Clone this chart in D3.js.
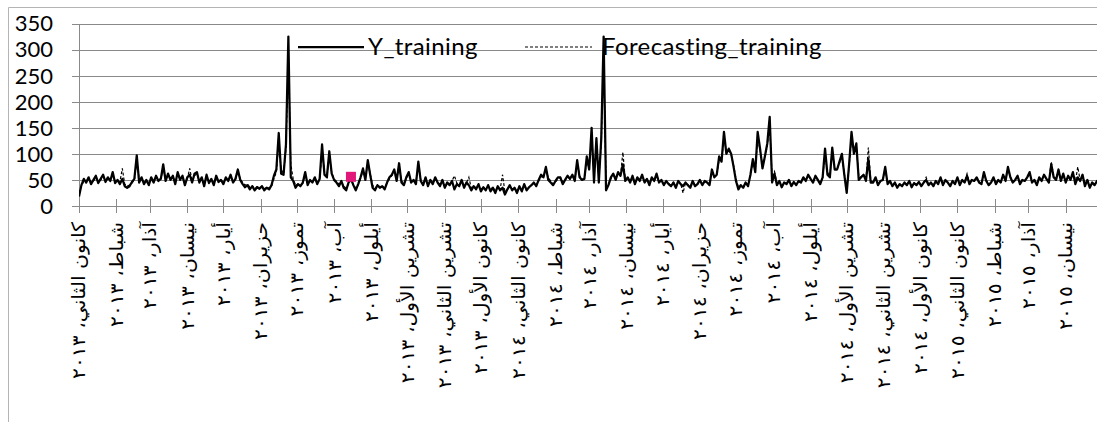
<!DOCTYPE html>
<html><head><meta charset="utf-8">
<script src="https://cdn.jsdelivr.net/npm/d3@7"></script>
<style>body{margin:0;background:#fff;} svg{display:block;}</style>
</head><body>
<svg id="chart" width="1097" height="422"></svg>
<script>
// ---- data ----
const startDate = "2013-01-01";
const stepDays = 2;
const seriesNames = ["Y_training", "Forecasting_training"];
const yTraining = [
 18,40,52,45,55,42,50,58,44,52,
 60,46,55,48,65,44,50,42,52,38,
 35,38,46,52,97,45,55,42,50,40,
 55,45,58,48,52,80,48,62,50,58,
 42,65,50,58,40,55,60,45,62,65,
 45,55,38,60,44,52,40,58,46,50,
 42,55,48,60,45,52,70,50,42,36,
 40,32,38,30,36,33,38,30,35,32,
 40,58,70,140,62,60,118,325,55,48,
 35,42,38,45,65,40,50,45,55,42,
 52,118,60,55,105,62,50,45,38,48,
 35,30,45,52,40,30,42,55,72,50,
 88,60,35,30,40,35,38,32,45,55,
 60,70,48,82,45,40,55,65,45,50,
 42,85,48,40,55,38,50,42,55,45,
 38,50,35,45,40,48,32,42,38,50,
 35,45,40,30,38,32,42,28,36,30,
 40,28,35,25,38,30,35,22,32,40,
 30,35,25,38,28,42,30,36,40,45,
 38,50,60,55,75,50,45,40,48,55,
 55,42,50,58,52,60,48,88,55,50,
 52,95,70,150,45,130,45,128,325,30,
 40,55,62,50,65,58,80,48,55,45,
 58,42,55,48,60,45,52,40,55,48,
 62,45,50,40,48,42,38,45,35,48,
 42,38,45,40,35,48,38,42,50,40,
 48,45,40,70,55,60,95,85,142,100,
 110,100,75,48,32,40,35,45,38,60,
 90,65,142,110,72,95,120,171,45,62,
 40,48,36,45,42,50,38,46,40,48,
 45,55,48,60,52,45,58,50,42,55,
 110,60,55,112,70,70,85,100,60,25,
 80,142,100,120,50,55,60,48,90,45,
 45,55,40,48,50,75,42,48,38,45,
 35,42,38,45,40,48,36,44,40,46,
 38,45,50,40,45,38,48,42,55,40,
 50,45,38,48,42,55,40,50,45,58,
 42,50,48,55,45,42,65,48,40,45,
 55,42,50,45,60,48,75,55,45,50,
 58,42,50,48,55,65,45,50,40,55,
 48,60,52,45,80,55,50,70,48,62,
 45,58,50,65,42,55,48,60,38,50,
 35,45,40,48,42
];
const forecastTraining = [
 25,38,48,48,52,46,48,55,48,50,
 56,50,52,50,60,48,48,46,72,42,
 38,40,44,50,85,52,52,45,48,44,
 52,48,55,50,52,72,52,58,52,55,
 46,60,52,55,44,52,72,48,58,62,
 48,52,42,56,46,50,44,55,48,50,
 45,52,50,56,48,50,68,52,45,40,
 42,36,38,34,37,35,38,33,36,34,
 38,52,65,120,70,62,110,290,80,52,
 40,42,40,44,60,44,48,46,52,45,
 50,105,65,56,98,64,52,47,42,46,
 38,34,42,50,42,34,40,52,68,54,
 82,62,40,34,40,37,38,35,44,52,
 58,66,50,78,48,44,52,62,48,50,
 45,80,50,44,52,42,50,44,52,46,
 42,48,38,45,42,48,58,44,40,48,
 38,44,55,34,38,35,40,32,36,32,
 38,32,36,28,36,32,60,26,32,38,
 32,35,28,36,30,40,32,36,40,44,
 40,48,56,56,70,54,48,42,46,52,
 55,46,50,56,52,58,50,82,58,52,
 52,88,72,135,60,120,55,115,290,45,
 42,52,60,52,62,58,103,50,54,47,
 56,45,54,50,58,47,52,43,54,48,
 58,47,50,42,47,43,40,45,38,46,
 43,25,44,41,37,46,40,42,48,42,
 46,45,42,66,56,60,88,88,130,105,
 108,98,78,52,36,40,37,44,40,58,
 85,70,128,108,78,92,115,155,55,66,
 44,47,38,45,43,48,40,45,42,47,
 46,53,49,58,52,47,56,51,45,54,
 100,65,57,105,72,70,82,95,62,35,
 75,130,105,115,58,56,60,50,112,48,
 46,53,42,47,50,70,45,47,40,44,
 38,42,40,44,42,47,38,44,42,45,
 40,45,55,42,45,40,47,43,54,42,
 49,45,40,47,43,53,42,49,46,62,
 44,50,48,54,46,44,62,50,42,45,
 53,44,50,46,58,50,70,56,47,50,
 56,44,50,48,54,62,47,50,42,54,
 48,58,52,47,85,58,52,68,50,60,
 47,56,52,62,45,75,50,58,42,50,
 38,45,42,47,43
];
const monthLabels = [
 "كانون الثاني، ٢٠١٣","شباط، ٢٠١٣","آذار، ٢٠١٣","نيسان، ٢٠١٣","أيار، ٢٠١٣","حزيران، ٢٠١٣",
 "تموز، ٢٠١٣","آب، ٢٠١٣","أيلول، ٢٠١٣","تشرين الأول، ٢٠١٣","تشرين الثاني، ٢٠١٣","كانون الأول، ٢٠١٣",
 "كانون الثاني، ٢٠١٤","شباط، ٢٠١٤","آذار، ٢٠١٤","نيسان، ٢٠١٤","أيار، ٢٠١٤","حزيران، ٢٠١٤",
 "تموز، ٢٠١٤","آب، ٢٠١٤","أيلول، ٢٠١٤","تشرين الأول، ٢٠١٤","تشرين الثاني، ٢٠١٤","كانون الأول، ٢٠١٤",
 "كانون الثاني، ٢٠١٥","شباط، ٢٠١٥","آذار، ٢٠١٥","نيسان، ٢٠١٥"
];
const yTicks = [0,50,100,150,200,250,300,350];
const markerDate = "2013-08-15";
const markerValue = 56;

// ---- layout ----
const svg = d3.select("#chart");
const W = 1097, H = 422;
const parse = d3.utcParse("%Y-%m-%d");
const t0 = parse(startDate);
const tickStart = parse("2013-01-01"), tickEnd = parse("2015-04-01");
const x = d3.scaleUtc().domain([tickStart, tickEnd]).range([79, 1065.7]);
const y = d3.scaleLinear().domain([0, 350]).range([206, 23.5]);
const gridColor = "#898989";
const latin = "Lato, 'Open Sans', sans-serif";

svg.append("rect").attr("width", W).attr("height", H).attr("fill", "#fff");
svg.append("path").attr("d", `M8.5,${H} V7.5 H${W}`).attr("fill","none").attr("stroke","#b4b4b4").attr("stroke-width",1);

// gridlines
svg.append("g").selectAll("line").data(yTicks).join("line")
  .attr("x1", 72).attr("x2", W)
  .attr("y1", d => Math.round(y(d)) + 0.5).attr("y2", d => Math.round(y(d)) + 0.5)
  .attr("stroke", gridColor).attr("stroke-width", 1);

// y axis line
svg.append("line").attr("x1", 79.5).attr("x2", 79.5)
  .attr("y1", Math.round(y(350)) + 0.5).attr("y2", 213)
  .attr("stroke", gridColor);

// y tick labels
svg.append("g").selectAll("text").data(yTicks).join("text")
  .attr("x", 53).attr("y", d => y(d))
  .attr("dy", "0.36em")
  .attr("text-anchor", "end")
  .attr("font-family", latin)
  .attr("font-size", 22)
  .attr("fill", "#000")
  .text(d => d);

// x ticks
const tickDates = d3.utcMonth.range(tickStart, d3.utcDay.offset(tickEnd, 1));
svg.append("g").selectAll("line").data(tickDates).join("line")
  .attr("x1", d => Math.round(x(d)) + 0.5).attr("x2", d => Math.round(x(d)) + 0.5)
  .attr("y1", 199).attr("y2", 213)
  .attr("stroke", gridColor);

// x labels (Arabic, vertical)
svg.append("g").selectAll("text").data(tickDates).join("text")
  .attr("transform", d => `translate(${x(d)},222) rotate(-90) scale(1.1,1)`)
  .attr("text-anchor", "end")
  .attr("dy", "0.35em")
  .attr("font-family", "'DejaVu Sans', sans-serif")
  .attr("font-size", 18.5)
  .attr("fill", "#000")
  .text((d, i) => monthLabels[i]);

// series
const dateAt = i => d3.utcDay.offset(t0, i * stepDays);
const line = d3.line().x((d, i) => x(dateAt(i))).y(d => y(d));

svg.append("clipPath").attr("id", "clip").append("rect")
  .attr("x", 79).attr("y", 0).attr("width", W - 79).attr("height", 212);

svg.append("path").datum(yTraining)
  .attr("clip-path", "url(#clip)")
  .attr("d", line).attr("fill", "none")
  .attr("stroke", "#000").attr("stroke-width", 2.25).attr("stroke-linejoin", "round");

svg.append("path").datum(forecastTraining)
  .attr("clip-path", "url(#clip)")
  .attr("d", line).attr("fill", "none")
  .attr("stroke", "#000").attr("stroke-width", 1.2).attr("stroke-dasharray", "3,2");

// pink marker
const md = parse(markerDate);
svg.append("rect")
  .attr("x", x(md) - 5).attr("y", y(markerValue) - 5)
  .attr("width", 10).attr("height", 10)
  .attr("fill", "#E2177A");

// legend
const lg = svg.append("g");
lg.append("line").attr("x1", 298).attr("x2", 364).attr("y1", 47).attr("y2", 47)
  .attr("stroke", "#000").attr("stroke-width", 2.25);
lg.append("text").attr("x", 368).attr("y", 55)
  .attr("font-family", latin).attr("font-size", 24).attr("letter-spacing", 0.4)
  .text(seriesNames[0]);
lg.append("line").attr("x1", 525).attr("x2", 592).attr("y1", 47).attr("y2", 47)
  .attr("stroke", "#000").attr("stroke-width", 1.2).attr("stroke-dasharray", "3,2");
lg.append("text").attr("x", 602).attr("y", 55)
  .attr("font-family", latin).attr("font-size", 24).attr("letter-spacing", 0.4)
  .text(seriesNames[1]);
</script>
</body></html>
